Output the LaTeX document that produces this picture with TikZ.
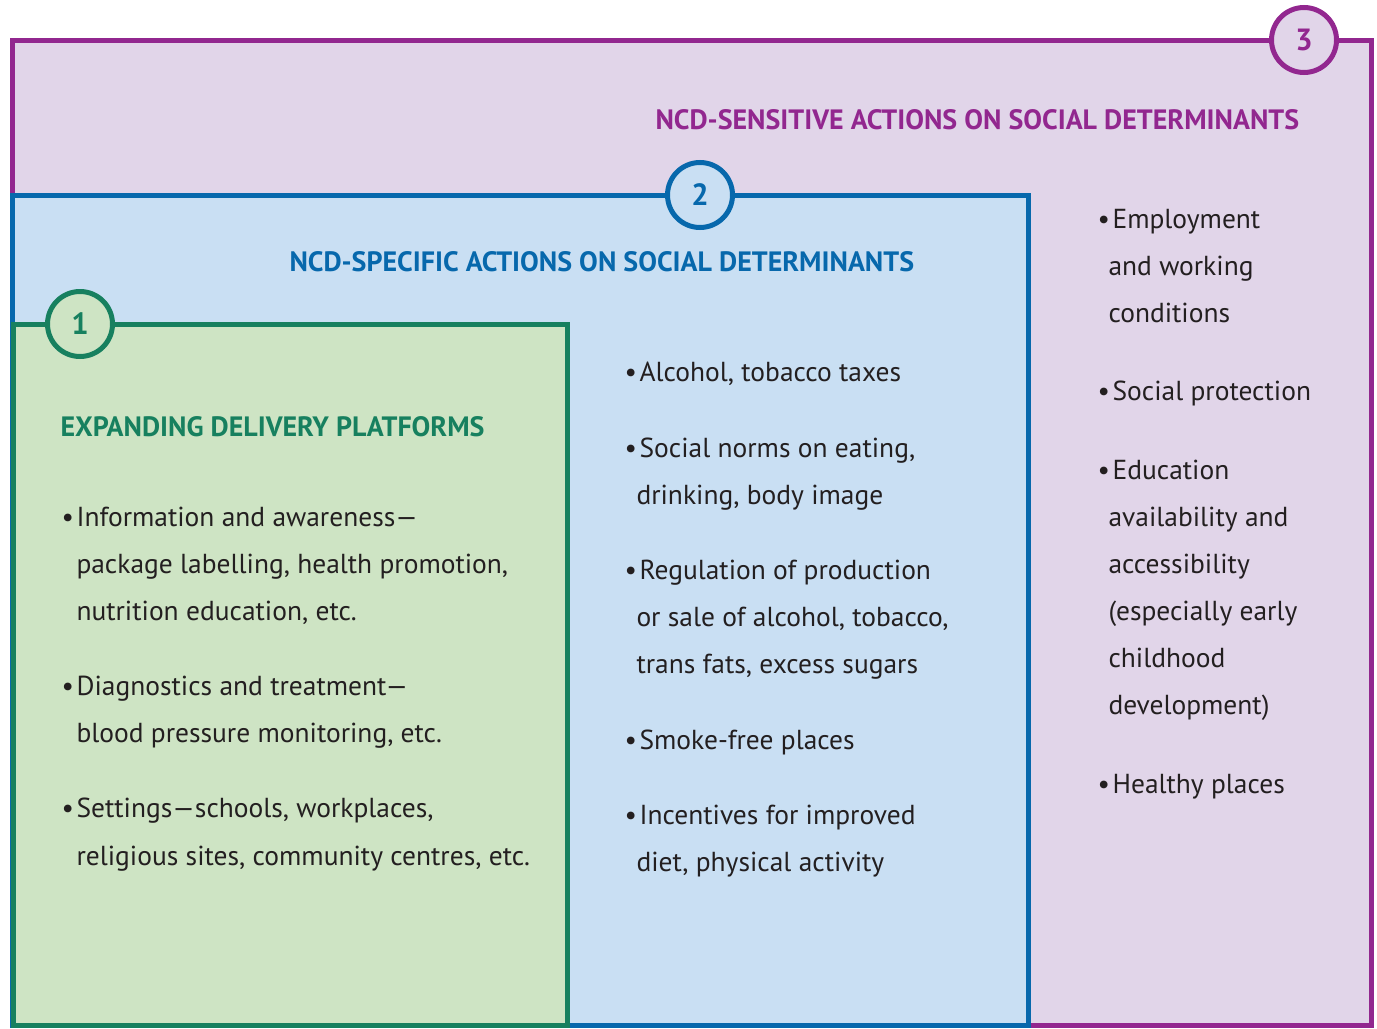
\documentclass[tikz,border=0pt]{standalone}
\usepackage{fontspec}
\setmainfont{PT Sans}
\definecolor{purp}{HTML}{92278F}
\definecolor{purpfill}{HTML}{E1D5E9}
\definecolor{blu}{HTML}{0768AC}
\definecolor{blufill}{HTML}{C9DFF3}
\definecolor{grn}{HTML}{17805F}
\definecolor{grnfill}{HTML}{CEE4C4}
\definecolor{ink}{HTML}{231F20}
\tikzset{every picture/.style={line width=0.75pt}}
\tikzset{
	numcirc/.style={circle, line width=3.75pt, minimum size=48.75pt, inner sep=0pt, font=\bfseries\fontsize{23}{23}\selectfont},
	head/.style={anchor=base west, inner sep=0pt, font=\bfseries\fontsize{21}{21}\selectfont},
	item/.style={anchor=base west, inner sep=0pt, text=ink, font=\fontsize{20.6}{20.6}\selectfont}}
\newcommand{\bul}{\textbullet\hspace{2pt}}

\begin{document}
\begin{tikzpicture}[x=0.75pt,y=0.75pt,yscale=-1,xscale=1]
	\useasboundingbox (0,0) rectangle (1377,1028);

	%Shape: Rectangle [id:box3] 
	\draw [draw=purp, fill=purpfill, line width=3.75pt] (12,40) rectangle (1371,1025) ;
	%Shape: Rectangle [id:box2] 
	\draw [draw=blu, fill=blufill, line width=3.75pt] (12,195) rectangle (1028,1025) ;
	%Shape: Rectangle [id:box1] 
	\draw [draw=grn, fill=grnfill, line width=3.75pt] (13,324) rectangle (567,1025) ;

	%Shape: Circle [id:num3] 
	\node [numcirc, draw=purp, fill=purpfill, text=purp] (num3) at (1304,40) {3};
	%Shape: Circle [id:num2] 
	\node [numcirc, draw=blu, fill=blufill, text=blu] (num2) at (700,195) {2};
	%Shape: Circle [id:num1] 
	\node [numcirc, draw=grn, fill=grnfill, text=grn] (num1) at (80,324) {1};

	% Text Node
	\node [head, text=purp] (head3) at (655,129) {NCD-SENSITIVE ACTIONS ON SOCIAL DETERMINANTS};
	% Text Node
	\node [head, text=blu] (head2) at (289,271) {NCD-SPECIFIC ACTIONS ON SOCIAL DETERMINANTS};
	% Text Node
	\node [head, text=grn] (head1) at (60,436) {EXPANDING DELIVERY PLATFORMS};

	% Text Node
	\node [item] (infoa) at (61,526) {\bul Information and awareness—};
	\node [item] (infob) at (76,573) {package labelling, health promotion,};
	\node [item] (infoc) at (76,620) {nutrition education, etc.};
	% Text Node
	\node [item] (diaga) at (61,695) {\bul Diagnostics and treatment—};
	\node [item] (diagb) at (76,742) {blood pressure monitoring, etc.};
	% Text Node
	\node [item] (seta) at (61,817) {\bul Settings—schools, workplaces,};
	\node [item] (setb) at (76,865) {religious sites, community centres, etc.};

	% Text Node
	\node [item] (taxa) at (624,381) {\bul Alcohol, tobacco taxes};
	% Text Node
	\node [item] (norma) at (624,457) {\bul Social norms on eating,};
	\node [item] (normb) at (636,504) {drinking, body image};
	% Text Node
	\node [item] (rega) at (624,579) {\bul Regulation of production};
	\node [item] (regb) at (636,626) {or sale of alcohol, tobacco,};
	\node [item] (regc) at (636,673) {trans fats, excess sugars};
	% Text Node
	\node [item] (smokea) at (624,749) {\bul Smoke-free places};
	% Text Node
	\node [item] (inca) at (624,824) {\bul Incentives for improved};
	\node [item] (incb) at (636,871) {diet, physical activity};

	% Text Node
	\node [item] (empa) at (1097,228) {\bul Employment};
	\node [item] (empb) at (1108,275) {and working};
	\node [item] (empc) at (1108,322) {conditions};
	% Text Node
	\node [item] (prota) at (1097,400) {\bul Social protection};
	% Text Node
	\node [item] (edua) at (1097,479) {\bul Education};
	\node [item] (edub) at (1108,526) {availability and};
	\node [item] (educ) at (1108,573) {accessibility};
	\node [item] (edud) at (1108,620) {(especially early};
	\node [item] (edue) at (1108,667) {childhood};
	\node [item] (eduf) at (1108,714) {development)};
	% Text Node
	\node [item] (placea) at (1097,793) {\bul Healthy places};

\end{tikzpicture}
\end{document}
